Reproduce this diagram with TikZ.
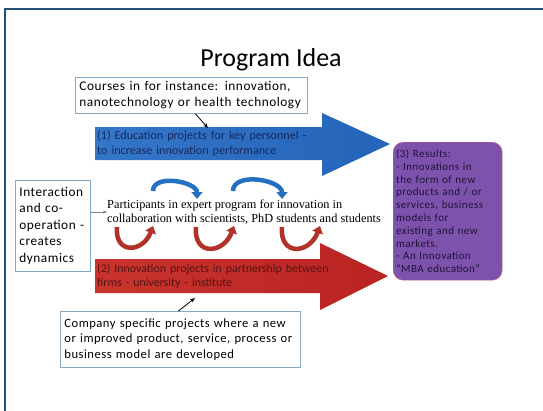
\documentclass[tikz,border=0pt]{standalone}
\usepackage{fontspec}
\setmainfont{Carlito}
\newfontfamily\timesfont{Liberation Serif}
\newfontfamily\boxfont[LetterSpace=4]{Carlito}
\usetikzlibrary{arrows.meta, positioning}

\definecolor{framecol}{RGB}{31,78,121}
\definecolor{boxcol}{RGB}{130,170,200}
\definecolor{edublue}{RGB}{52,118,200}
\definecolor{edublue2}{RGB}{36,100,185}
\definecolor{edutext}{RGB}{25,40,95}
\definecolor{innred}{RGB}{200,52,45}
\definecolor{innred2}{RGB}{185,35,35}
\definecolor{inntext}{RGB}{85,20,20}
\definecolor{respurple}{RGB}{125,82,172}
\definecolor{resedge}{RGB}{215,95,120}
\definecolor{restext}{RGB}{30,20,55}
\definecolor{curveblue}{RGB}{38,112,195}
\definecolor{curvered}{RGB}{178,50,40}

\begin{document}
\begin{tikzpicture}[
        x=1pt, y=-1pt,
        tbox/.style={rectangle, draw=boxcol, thick, fill=white, align=left, anchor=north west, inner xsep=4pt, inner ysep=0pt},
        atext/.style={rectangle, align=left, anchor=north west, inner xsep=2pt, inner ysep=0pt},
        bcurve/.style={draw=curveblue, line width=4.5pt, -{Triangle[length=7pt, width=11pt]}},
        rcurve/.style={draw=curvered, line width=4.5pt, -{Triangle[length=7pt, width=11pt]}},
        lead/.style={thick, -{Stealth[length=5pt, width=4pt]}},
      ]
        \useasboundingbox (0,0) rectangle (543,410);
        \draw[framecol, line width=2.5pt] (5,411) -- (5,9) -- (544,9);

        \node[font=\fontsize{26}{30}\selectfont] (title) at (271,60) {Program Idea};

        \shade[left color=edublue, right color=edublue2]
          (95,127) -- (322,127) -- (322,113) -- (390,144) -- (322,176) -- (322,160) -- (95,160) -- cycle;
        \shade[left color=innred, right color=innred2]
          (95,259) -- (320,259) -- (320,243) -- (388,276) -- (320,310) -- (320,293) -- (95,293) -- cycle;

        \node[tbox, text width=224pt, minimum height=36pt, font=\boxfont\fontsize{13.3}{16}\selectfont] (course) at (75,77)
          {Courses in for instance: innovation,\\nanotechnology or health technology};
        \node[atext, text width=250pt, minimum height=33pt, text=edutext, font=\fontsize{12.1}{15}\selectfont] (edu) at (95,127)
          {(1) Education projects for key personnel -\\to increase innovation performance};
        \node[tbox, text width=67pt, minimum height=91pt, font=\boxfont\fontsize{13.3}{16.5}\selectfont] (inter) at (15,180)
          {Interaction\\and co-\\operation -\\creates\\dynamics};
        \node[atext, anchor=west, inner xsep=0pt, font=\timesfont\fontsize{12.3}{13.5}\selectfont] (part) at (107,212)
          {Participants in expert program for innovation in\\collaboration with scientists, PhD students and students};
        \node[atext, text width=270pt, minimum height=34pt, text=inntext, font=\fontsize{11.9}{14.5}\selectfont] (inn) at (95,259)
          {(2) Innovation projects in partnership between\\firms - university - institute};
        \node[tbox, text width=232pt, minimum height=56pt, font=\boxfont\fontsize{12.6}{15.5}\selectfont] (comp) at (60,311)
          {Company specific projects where a new\\or improved product, service, process or\\business model are developed};
        \node[rectangle, rounded corners=10pt, draw=resedge, fill=respurple, text=restext, align=left,
              anchor=north west, text width=103pt, minimum width=109pt, minimum height=138pt,
              inner xsep=3pt, inner ysep=0pt, font=\boxfont\fontsize{11}{12.8}\selectfont] (res) at (393,142)
          {(3) Results:\\- Innovations in\\the form of new\\products and / or\\services, business\\models for\\existing and new\\markets.\\- An Innovation\\“MBA education”};

        \coordinate (eduin) at (208,128);
        \coordinate (innin) at (195,298);
        \coordinate (b1s) at (153,191);
        \coordinate (b1e) at (197,199);
        \coordinate (b2s) at (233,191);
        \coordinate (b2e) at (282,199);
        \coordinate (r1s) at (117,227);
        \coordinate (r1e) at (153,226);
        \coordinate (r2s) at (196,227);
        \coordinate (r2e) at (234,226);
        \coordinate (r3s) at (282,227);
        \coordinate (r3e) at (320,226);

        \draw[lead] ([xshift=4pt]course.south) -- (eduin);
        \draw[lead] ([xshift=-2pt]comp.north) -- (innin);
        \draw[gray, -{Stealth[length=4pt]}] (inter.east |- part.west) -- (part.west);

        \draw[bcurve] (b1s) to[out=90, in=90] (b1e);
        \draw[bcurve] (b2s) to[out=90, in=90] (b2e);
        \draw[rcurve] (r1s) to[out=-95, in=-110, looseness=2] (r1e);
        \draw[rcurve] (r2s) to[out=-95, in=-110, looseness=2] (r2e);
        \draw[rcurve] (r3s) to[out=-95, in=-110, looseness=2] (r3e);
      \end{tikzpicture}
\end{document}
